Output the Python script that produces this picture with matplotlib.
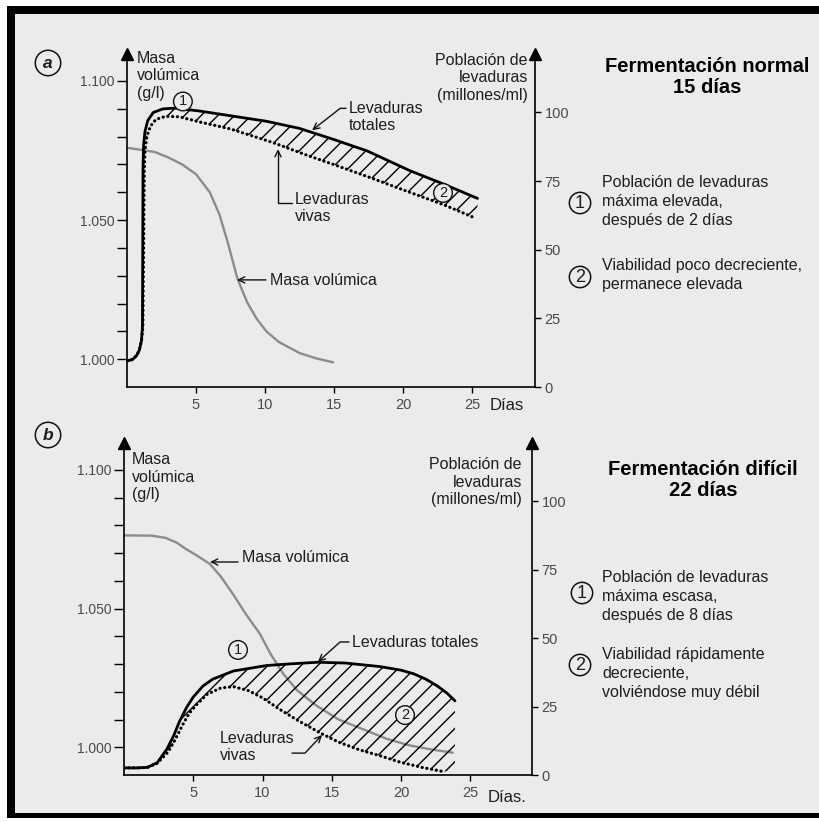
import numpy as np
import matplotlib.pyplot as plt
from matplotlib.patches import Rectangle

plt.rcParams['font.family'] = ['Liberation Sans', 'DejaVu Sans']

#######################################################
######## (a) Fermentación normal, 15 días ############
#######################################################
dias_a_tot = [0, 0.4, 0.7, 0.9, 1.05, 1.12, 1.14, 1.16, 1.2, 1.3, 1.5, 1.9, 2.6, 3.5,
              5.3, 7.5, 10.1, 12.5, 14.9, 17.4, 20.5, 23.0, 25.4]
tot_a = [9.5, 10.0, 11.5, 13.5, 17, 22, 50, 80, 88, 93, 97, 100, 101.3, 101.6,
         100.5, 98.8, 96.8, 94.2, 90.3, 86.0, 78.8, 73.8, 68.7]
dias_a_viv = [0, 0.4, 0.7, 0.9, 1.05, 1.15, 1.2, 1.25, 1.3, 1.45, 1.7, 2.1, 2.8, 3.8,
              5.3, 7.5, 10.6, 13.0, 15.0, 17.5, 20.5, 23.0, 25.1]
viv_a = [9.5, 10.0, 11.5, 13.5, 17, 22, 50, 78, 86, 91.5, 95, 97.5, 98.6, 98.4,
         96.5, 94.0, 89.0, 84.5, 81.0, 76.5, 70.9, 66.3, 61.8]
dias_a_mv = [0, 2.0, 3.0, 4.0, 5.0, 6.0, 6.7, 7.3, 8.0, 8.7, 9.4, 10.1, 11.0, 12.5, 13.7, 15.0]
mv_a = [1.0760, 1.0745, 1.0725, 1.0700, 1.0665, 1.0600, 1.0520, 1.0420, 1.0290, 1.0205,
        1.0145, 1.0100, 1.0062, 1.0022, 1.0003, 0.9988]

#######################################################
######## (b) Fermentación difícil, 22 días ###########
#######################################################
dias_b_tot = [0, 1.0, 1.7, 2.4, 3.1, 3.6, 4.0, 4.5, 5.0, 5.7, 6.4, 7.9, 10.3, 12.0,
              14.0, 16.0, 18.5, 20.0, 20.9, 21.8, 22.6, 23.3, 23.9]
tot_b = [2.6, 2.6, 2.8, 4.5, 9.5, 14.5, 19.5, 24.5, 28.5, 32.5, 35, 38, 40, 40.6,
         41.2, 40.9, 39.6, 38.3, 37.0, 35.0, 32.6, 30.0, 27.1]
dias_b_viv = [0, 1.0, 1.7, 2.4, 3.2, 3.7, 4.2, 4.7, 5.2, 6.0, 7.0, 7.9, 9.0, 10.0,
              11.3, 12.7, 14.3, 15.5, 17.0, 18.5, 20.0, 21.5, 23.0]
viv_b = [2.6, 2.6, 2.8, 4.3, 8.5, 13, 18, 22.5, 25.5, 29.5, 31.8, 32.3, 30.8, 28.2,
         23.8, 19.5, 15.0, 12.0, 9.2, 7.0, 4.6, 2.8, 1.3]
dias_b_mv = [0, 2.0, 3.0, 3.8, 4.5, 5.3, 6.2, 7.0, 7.9, 8.8, 9.8, 10.6, 11.5, 12.5,
             13.9, 15.5, 17.5, 19.0, 20.6, 22.2, 23.8]
mv_b = [1.0764, 1.0763, 1.0755, 1.0738, 1.0714, 1.0690, 1.0661, 1.0615, 1.0550, 1.0480,
        1.0410, 1.0335, 1.0265, 1.0205, 1.0150, 1.0100, 1.0060, 1.0030, 1.0007, 0.9992, 0.9980]

x_ticks = [5, 10, 15, 20, 25]
mv_ticks = [round(1.0 + 0.01 * i, 3) for i in range(11)]
mv_labels = {1.0: '1.000', 1.05: '1.050', 1.1: '1.100'}
pob_ticks = [0, 25, 50, 75, 100]

W, H = 820, 822
BG = '#ebebea'
GRIS = '#8c8c8c'
TXT = '#1e1e1e'
TICK = '#4a4a4a'
MV_MIN, MV_MAX = 0.990, 1.1097
POB_MAX = 121.3


def fx(px):
    return px / W


def fy(py):
    return 1 - py / H


fig = plt.figure(figsize=(W / 100, H / 100), dpi=100, facecolor=BG)

# scanned page frame: white margin, black band top / left / bottom
def banda(x0, y0, x1, y1, c):
    fig.add_artist(Rectangle((fx(x0), fy(y1)), (x1 - x0) / W, (y1 - y0) / H,
                             transform=fig.transFigure, fc=c, ec='none', lw=0))

banda(0, 0, W, 6, 'white')
banda(0, 0, 7, H, 'white')
banda(0, 818, W, H, 'white')
banda(7, 6, W, 14, 'black')
banda(7, 6, 15, 818, 'black')
banda(7, 813, W, 818, 'black')


def panel(x0, x1, y_top, y_bot, px_dia):
    ax = fig.add_axes([fx(x0), fy(y_bot), (x1 - x0) / W, (y_bot - y_top) / H])
    ax.set_facecolor('none')
    ax.set_xlim(0, (x1 - x0) / px_dia)
    ax.set_ylim(MV_MIN, MV_MAX)
    ax2 = ax.twinx()
    ax2.set_ylim(0, POB_MAX)
    for s in ['top', 'right']:
        ax.spines[s].set_visible(False)
    for s in ['top', 'left', 'bottom']:
        ax2.spines[s].set_visible(False)
    for sp in [ax.spines['left'], ax.spines['bottom'], ax2.spines['right']]:
        sp.set_linewidth(1.2)
        sp.set_color('black')
    ax.set_xticks(x_ticks)
    ax.tick_params(axis='x', direction='out', length=4, width=1, pad=4,
                   labelsize=10.5, labelcolor=TICK)
    ax.set_yticks(mv_ticks)
    ax.set_yticklabels([mv_labels.get(v, '') for v in mv_ticks])
    ax.tick_params(axis='y', direction='out', length=7, width=1, pad=2,
                   labelsize=10, labelcolor=TICK)
    ax2.set_yticks(pob_ticks)
    ax2.tick_params(axis='y', direction='out', length=4, width=1, pad=3,
                    labelsize=10.5, labelcolor=TICK)
    ax.plot([0], [1], marker='^', ms=8, color='k', transform=ax.transAxes, clip_on=False)
    ax2.plot([1], [1], marker='^', ms=8, color='k', transform=ax2.transAxes, clip_on=False)
    return ax, ax2


def curvas(ax, ax2, d_tot, tot, d_viv, viv, d_mv, mv):
    ax.plot(d_mv, mv, color=GRIS, lw=1.7, solid_capstyle='butt')
    px_ = list(d_tot) + [d_tot[-1]] + list(d_viv[::-1])
    py_ = list(tot) + [viv[-1]] + list(viv[::-1])
    ax2.fill(px_, py_, facecolor='none', edgecolor='k', hatch='//', lw=0)
    ax2.plot(d_viv, viv, color='k', lw=2.3, ls=(0, (0.05, 1.45)), dash_capstyle='round')
    ax2.plot(d_tot, tot, color='k', lw=2.0, solid_capstyle='round')


def circulo(ax, x, y, txt, fs=10.5, fc=BG, trans=None, lw=1.0, pad=0.12, **extra):
    kw = dict(ha='center', va='center', fontsize=fs, color=TXT,
              bbox=dict(boxstyle='circle,pad=%g' % pad, fc=fc, ec='#111', lw=lw))
    if trans is not None:
        kw['transform'] = trans
    kw.update(extra)
    ax.text(x, y, txt, **kw)


def lineas(x, y_top, txt, paso=17.5, **kw):
    # one fig.text per line, so each line keeps its own box
    for i, s in enumerate(txt.split('\n')):
        fig.text(fx(x), fy(y_top + i * paso), s, va='top', **kw)


FLECHA = '->,head_length=0.45,head_width=0.22'


def guia(ax, xy_ini, xy_fin, angB, angA=0):
    ax.annotate('', xy=xy_fin, xytext=xy_ini,
                arrowprops=dict(arrowstyle=FLECHA, color='#111', lw=1.0, shrinkA=0, shrinkB=0,
                                connectionstyle='angle,angleA=%g,angleB=%g,rad=0' % (angA, angB)))


lab = dict(fontsize=11.5, color=TXT, linespacing=1.2)
nota = dict(fontsize=11.5, color=TXT, linespacing=1.32)
titulo = dict(fontsize=14.5, fontweight='bold', color='black', linespacing=1.12)
eje = dict(fontsize=11.5, color=TXT)

######## panel a ########
ax_a, ax2_a = panel(127, 535, 54, 387, 13.8)
curvas(ax_a, ax2_a, dias_a_tot, tot_a, dias_a_viv, viv_a, dias_a_mv, mv_a)
circulo(ax2_a, 4.05, 104.0, '1', pad=0.16)
circulo(ax2_a, 22.9, 70.7, '2', pad=0.16)
guia(ax2_a, (15.87, 101.5), (13.41, 93.5), 38)
guia(ax2_a, (11.96, 67.0), (10.94, 86.7), 90)
ax_a.annotate('', xy=(7.97, 1.0285), xytext=(10.07, 1.0285),
              arrowprops=dict(arrowstyle=FLECHA, color='#111', lw=1.0, shrinkA=0, shrinkB=0))
fig.text(fx(349), fy(101), 'Levaduras\ntotales', va='top', ha='left', **lab)
fig.text(fx(295), fy(192), 'Levaduras\nvivas', va='top', ha='left', **lab)
fig.text(fx(270), fy(280), 'Masa volúmica', va='center', ha='left', **lab)
lineas(137, 51, 'Masa\nvolúmica\n(g/l)', ha='left', **eje)
lineas(528, 53, 'Población de\nlevaduras\n(millones/ml)', ha='right', **eje)
fig.text(fx(490), fy(406), 'Días', va='center', ha='left', fontsize=12, color=TXT)
fig.text(fx(707), fy(57), 'Fermentación normal\n15 días', va='top', ha='center', **titulo)
circulo(fig, fx(580), fy(203), '1', fs=13, fc='none', trans=fig.transFigure, lw=1.1)
fig.text(fx(602), fy(175), 'Población de levaduras\nmáxima elevada,\ndespués de 2 días',
         va='top', ha='left', **nota)
circulo(fig, fx(580), fy(277), '2', fs=13, fc='none', trans=fig.transFigure, lw=1.1)
fig.text(fx(602), fy(258), 'Viabilidad poco decreciente,\npermanece elevada',
         va='top', ha='left', **nota)

######## panel b ########
ax_b, ax2_b = panel(124, 532, 443, 775, 13.85)
curvas(ax_b, ax2_b, dias_b_tot, tot_b, dias_b_viv, viv_b, dias_b_mv, mv_b)
circulo(ax2_b, 8.23, 45.7, '1', pad=0.16)
circulo(ax2_b, 20.29, 21.9, '2', pad=0.16)
guia(ax2_b, (16.25, 48.6), (14.0, 41.3), 42)
guia(ax2_b, (12.13, 8.0), (14.3, 14.6), 46.6)
ax_b.annotate('', xy=(6.21, 1.0668), xytext=(8.23, 1.0668),
              arrowprops=dict(arrowstyle=FLECHA, color='#111', lw=1.0, shrinkA=0, shrinkB=0))
fig.text(fx(352), fy(642), 'Levaduras totales', va='center', ha='left', **lab)
fig.text(fx(220), fy(731), 'Levaduras\nvivas', va='top', ha='left', **lab)
fig.text(fx(242), fy(558), 'Masa volúmica', va='center', ha='left', **lab)
lineas(132, 452, 'Masa\nvolúmica\n(g/l)', ha='left', **eje)
lineas(522, 457, 'Población de\nlevaduras\n(millones/ml)', ha='right', **eje)
fig.text(fx(488), fy(797), 'Días.', va='center', ha='left', fontsize=12, color=TXT)
fig.text(fx(703), fy(460), 'Fermentación difícil\n22 días', va='top', ha='center', **titulo)
circulo(fig, fx(582), fy(593), '1', fs=13, fc='none', trans=fig.transFigure, lw=1.1)
fig.text(fx(602), fy(570), 'Población de levaduras\nmáxima escasa,\ndespués de 8 días',
         va='top', ha='left', **nota)
circulo(fig, fx(580), fy(665), '2', fs=13, fc='none', trans=fig.transFigure, lw=1.1)
fig.text(fx(602), fy(647), 'Viabilidad rápidamente\ndecreciente,\nvolviéndose muy débil',
         va='top', ha='left', **nota)

# panel letters
circulo(fig, fx(48), fy(63), 'a', fs=12.5, fc='none', trans=fig.transFigure, lw=1.1, pad=0.3,
        fontstyle='italic', fontweight='bold')
circulo(fig, fx(48), fy(435), 'b', fs=12.5, fc='none', trans=fig.transFigure, lw=1.1, pad=0.3,
        fontstyle='italic', fontweight='bold')

fig.savefig('out.png', dpi=100, facecolor=BG)
